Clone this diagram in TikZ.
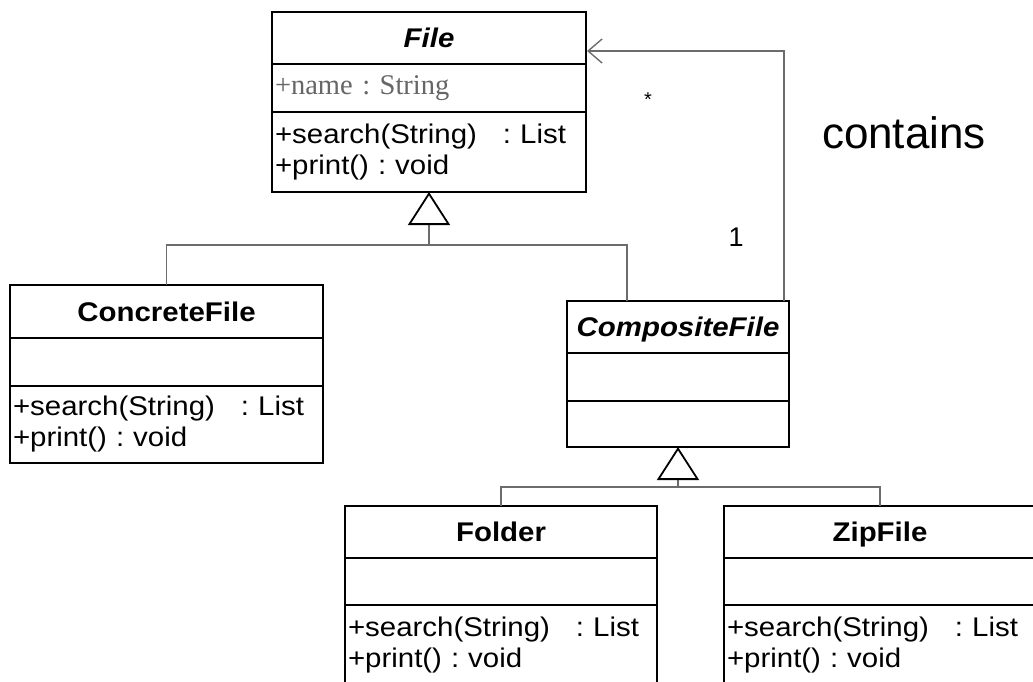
\documentclass[tikz,border=0pt]{standalone}
\usepackage{fontspec}
\setmainfont{Liberation Sans}
\newfontfamily\umlfont[FakeStretch=1.09]{Liberation Sans}
\newfontfamily\attrfont{Liberation Serif}
\usetikzlibrary{arrows.meta}

\tikzset{
  box/.style={draw, line width=2.4pt, anchor=north west, inner sep=0pt, outer sep=0pt},
  head/.style={box, font=\umlfont\fontsize{27}{31}\selectfont\bfseries, text height=20pt, text depth=1pt},
  attr/.style={box, font=\attrfont\fontsize{28.5}{32}\selectfont, text=black!60, align=left, inner xsep=3pt},
  ops/.style={box, font=\umlfont\fontsize{27}{31}\selectfont, align=left, inner xsep=3pt},
  link/.style={line width=1.4pt, draw=gray!85!black},
  gen/.style={link, -{Triangle[open, length=33pt, width=42pt, color=black, line width=1.8pt]}},
  assoc/.style={link, -{Straight Barb[length=14pt, width=24pt]}},
}

\begin{document}
\frenchspacing
\begin{tikzpicture}[x=1pt, y=-1pt]
\useasboundingbox (0,0) rectangle (1033,681);
\clip (0,0) rectangle (1033,681);

% File
\node[head, minimum width=314pt, minimum height=52pt] (file) at (272,12) {\itshape File};
\node[attr, minimum width=314pt, text width=308pt, minimum height=48pt] (file-a) at (272,64) {+name : String};
\node[ops, minimum width=314pt, text width=308pt, minimum height=80pt] (file-m) at (272,112)
  {+search(String)\hspace{26pt}: List\\+print() : void};

% ConcreteFile
\node[head, minimum width=313pt, minimum height=53pt] (concrete) at (10,285) {ConcreteFile};
\node[box, minimum width=313pt, minimum height=48pt] (concrete-a) at (10,338) {};
\node[ops, minimum width=313pt, text width=307pt, minimum height=77pt] (concrete-m) at (10,386)
  {+search(String)\hspace{26pt}: List\\+print() : void};

% CompositeFile
\node[head, minimum width=222pt, minimum height=52pt] (comp) at (567,301) {\itshape CompositeFile};
\node[box, minimum width=222pt, minimum height=48pt] (comp-a) at (567,353) {};
\node[box, minimum width=222pt, minimum height=46pt] (comp-m) at (567,401) {};

% Folder
\node[head, minimum width=312pt, minimum height=52pt] (folder) at (345,506) {Folder};
\node[box, minimum width=312pt, minimum height=47pt] (folder-a) at (345,558) {};
\node[ops, minimum width=312pt, text width=306pt, minimum height=80pt] (folder-m) at (345,605)
  {+search(String)\hspace{26pt}: List\\+print() : void};

% ZipFile
\node[head, minimum width=312pt, minimum height=52pt] (zip) at (724,506) {ZipFile};
\node[box, minimum width=312pt, minimum height=47pt] (zip-a) at (724,558) {};
\node[ops, minimum width=312pt, text width=306pt, minimum height=80pt] (zip-m) at (724,605)
  {+search(String)\hspace{26pt}: List\\+print() : void};

% generalizations
\coordinate (top-j) at (429,245);
\coordinate (comp-in) at (627,301);
\draw[link] (concrete.north) |- (top-j);
\draw[link] (comp-in) |- (top-j);
\draw[gen] (top-j) -- (file-m.south);

\coordinate (low-j) at (678,487);
\draw[link] (folder.north) |- (low-j);
\draw[link] (zip.north) |- (low-j);
\draw[gen] (low-j) -- (comp-m.south);

% contains
\coordinate (own) at (784,301);
\coordinate (own-end) at (587,51);
\draw[assoc] (own) |- (own-end);
\node[font=\fontsize{20}{22}\selectfont] (many) at (648,100) {*};
\node[font=\fontsize{27}{31}\selectfont] (one) at (736,237) {1};
\node[font=\fontsize{44}{50}\selectfont] (contains) at (904,133) {contains};
\end{tikzpicture}
\end{document}
